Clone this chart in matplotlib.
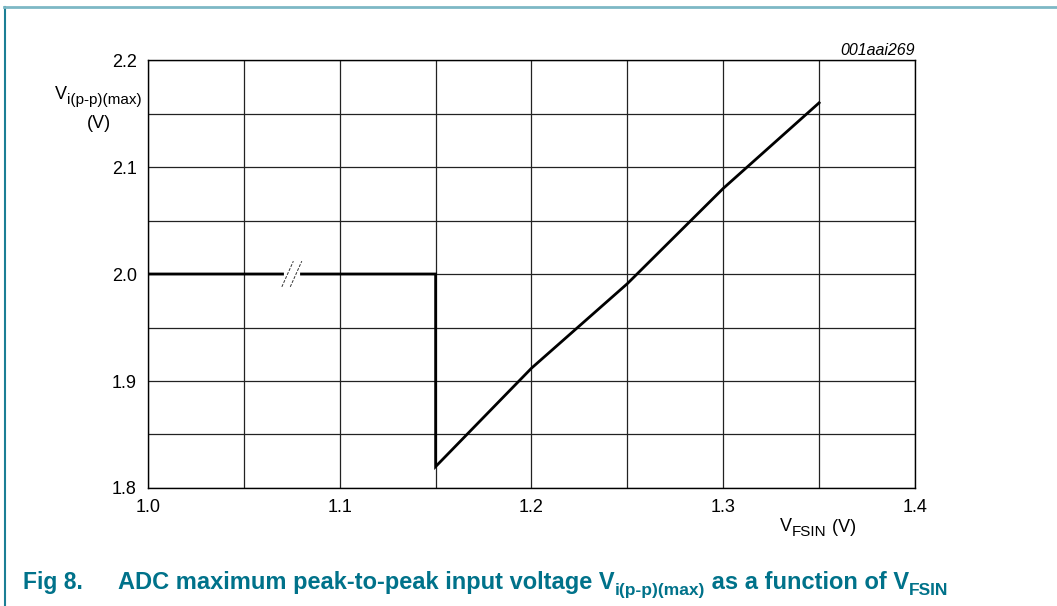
import matplotlib
matplotlib.use("Agg")
import matplotlib.pyplot as plt
from matplotlib.lines import Line2D

plt.rcParams['font.family'] = ['Liberation Sans', 'DejaVu Sans']

# ---- data ----
vfsin = [1.0, 1.15, 1.15, 1.20, 1.25, 1.30, 1.35]
vipp_max = [2.0, 2.0, 1.82, 1.912, 1.991, 2.080, 2.160]
x_ticks = [1.0, 1.1, 1.2, 1.3, 1.4]
x_ticklabels = ["1.0", "1.1", "1.2", "1.3", "1.4"]
y_ticks = [1.8, 1.9, 2.0, 2.1, 2.2]
y_ticklabels = ["1.8", "1.9", "2.0", "2.1", "2.2"]
x_grid = [1.0, 1.05, 1.1, 1.15, 1.2, 1.25, 1.3, 1.35, 1.4]
y_grid = [1.8, 1.85, 1.9, 1.95, 2.0, 2.05, 2.1, 2.15, 2.2]
break_x = 1.075
break_y = 2.0

W, H = 1057, 606
fig = plt.figure(figsize=(W / 100, H / 100), dpi=100)
fig.patch.set_facecolor('white')

ax = fig.add_axes([148 / W, 1 - 488 / H, (915 - 148) / W, (488 - 60) / H])
ax.set_xlim(1.0, 1.4)
ax.set_ylim(1.8, 2.2)
for v in x_grid:
    ax.axvline(v, color='#222222', lw=0.9, zorder=1)
for v in y_grid:
    ax.axhline(v, color='#222222', lw=0.9, zorder=1)
ax.plot(vfsin, vipp_max, color='black', lw=2.0, zorder=3, solid_joinstyle='miter')

# axis-break marker on the horizontal segment
ax.plot([break_x - 0.003, break_x + 0.003], [break_y, break_y], color='white', lw=3, zorder=4)
for dx in (-0.0022, 0.0022):
    ax.plot([break_x + dx - 0.003, break_x + dx + 0.003], [break_y - 0.012, break_y + 0.012],
            color='#333333', lw=0.7, ls=(0, (3, 1.5)), zorder=5)

ax.set_xticks(x_ticks)
ax.set_xticklabels(x_ticklabels)
ax.set_yticks(y_ticks)
ax.set_yticklabels(y_ticklabels)
ax.tick_params(length=0, labelsize=13, pad=8, colors='black')
for s in ax.spines.values():
    s.set_linewidth(1.0)
    s.set_color('black')

renderer = fig.canvas.get_renderer()


def rich(x_px, y_px, parts, color='black', weight='normal', style='normal'):
    """parts: list of (text, size, dy_px). y_px is baseline from top."""
    x = x_px
    for txt, size, dy in parts:
        t = fig.text(x / W, 1 - (y_px + dy) / H, txt, fontsize=size, color=color,
                     weight=weight, style=style, ha='left', va='baseline')
        bb = t.get_window_extent(renderer=renderer)
        x += bb.width
    return x


# y-axis label
rich(55, 99, [("V", 13, 0), ("i(p-p)(max)", 11, 5)])
fig.text(99 / W, 1 - 128 / H, "(V)", fontsize=13, ha='center', va='baseline')

# x-axis label
rich(780, 532, [("V", 13, -1), ("FSIN", 11, 4), (" (V)", 13, 0)])

# figure id
fig.text(915 / W, 1 - 55 / H, "001aai269", fontsize=11.5, style='italic', ha='right', va='baseline')

# caption
cap_color = '#00728A'
fig.text(23 / W, 1 - 589 / H, "Fig 8.", fontsize=16.5, weight='bold', color=cap_color, va='baseline')
rich(118, 589, [("ADC maximum peak-to-peak input voltage V", 17, 0),
                ("i(p-p)(max)", 12.5, 6),
                (" as a function of V", 17, 0),
                ("FSIN", 12.5, 6)], color=cap_color, weight='bold')

# frame lines (left dark teal, top light teal)
fig.add_artist(Line2D([4.5 / W, 4.5 / W], [0, 1 - 7 / H], transform=fig.transFigure,
                      color='#1B7F95', lw=1.5))
fig.add_artist(Line2D([4 / W, 1], [1 - 7 / H, 1 - 7 / H], transform=fig.transFigure,
                      color='#7DB8C5', lw=2.0))

fig.savefig("out.png", dpi=100)
